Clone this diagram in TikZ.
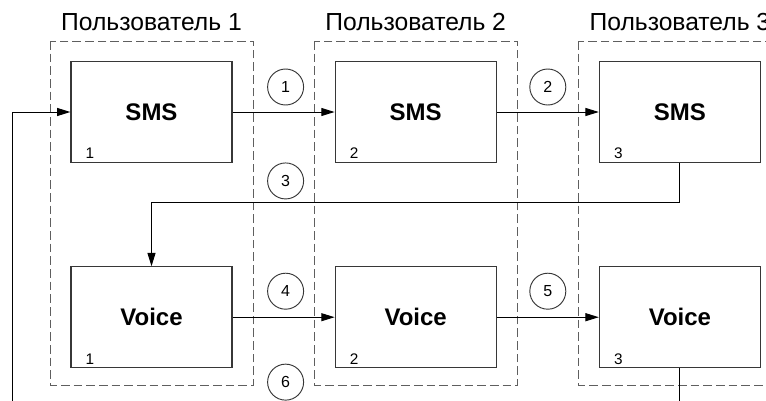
\documentclass[tikz,border=0pt]{standalone}
\usepackage{fontspec}
\setmainfont{Liberation Sans}
\usetikzlibrary{arrows.meta,positioning,calc}
\definecolor{boxcol}{RGB}{55,55,55}
\definecolor{usrcol}{RGB}{95,95,95}

\begin{document}
\begin{tikzpicture}[x=0.75pt, y=-0.75pt,
  svc/.style={rectangle, draw=boxcol, line width=0.9pt, minimum width=120.75pt, minimum height=75.5pt,
              font=\fontsize{18}{20}\selectfont\bfseries},
  usr/.style={draw=usrcol, line width=0.8pt, dash pattern=on 6.5pt off 3pt},
  usrname/.style={inner sep=0pt, font=\fontsize{18.5}{20}\selectfont},
  svcno/.style={anchor=base west, inner sep=0pt, font=\fontsize{11.5}{12}\selectfont},
  stepno/.style={circle, draw=boxcol, line width=0.7pt, minimum size=27pt, inner sep=0pt,
                 font=\fontsize{12}{12}\selectfont},
  msg/.style={draw=black, line width=0.75pt, -{Triangle[length=10pt,width=6pt]}}]

% canvas, cut at the frame
\fill[white] (0,0) rectangle (766,400);
\useasboundingbox (0,0) rectangle (766,400);
\clip (0,0) rectangle (766,400);

% services of each user
\node[svc] (sms1) at (151.5,112) {SMS};
\node[svc, right=76.5pt of sms1] (sms2) {SMS};
\node[svc, right=76.5pt of sms2] (sms3) {SMS};
\node[svc, below=77.5pt of sms1] (voice1) {Voice};
\node[svc, right=76.5pt of voice1] (voice2) {Voice};
\node[svc, right=76.5pt of voice2] (voice3) {Voice};

% user index inside the boxes
\foreach \s/\n in {sms1/1, sms2/2, sms3/3, voice1/1, voice2/2, voice3/3}
  \node[svcno] at ($(\s.south west)+(15,-4)$) {\n};

% user frames
\foreach \u in {1,2,3} {
  \draw[usr] ($(sms\u.north west)+(-20,-20)$) rectangle ($(voice\u.south east)+(21,17)$);
  \node[usrname] (user\u) at ($(sms\u.north)+(0,-39)$) {Пользователь \u};
}

% message flow
\coordinate (loop) at (12,430);
\draw[msg] (sms1) -- (sms2);
\draw[msg] (sms2) -- (sms3);
\draw[msg] (sms3.south) -- ++(0,40) -| (voice1.north);
\draw[msg] (voice1) -- (voice2);
\draw[msg] (voice2) -- (voice3);
\draw[msg] (voice3.south) |- (loop) |- (sms1.west);

% step numbers
\node[stepno] (s1) at ($(sms1.east)!0.5!(sms2.west)+(2,-25)$) {1};
\node[stepno] (s2) at ($(sms2.east)!0.5!(sms3.west)+(0,-25)$) {2};
\node[stepno] (s3) at ($(sms1.south east)!0.5!(sms2.south west)+(2,18)$) {3};
\node[stepno] (s4) at ($(voice1.east)!0.5!(voice2.west)+(2,-26)$) {4};
\node[stepno] (s5) at ($(voice2.east)!0.5!(voice3.west)+(0,-26)$) {5};
\node[stepno] (s6) at ($(voice1.south east)!0.5!(voice2.south west)+(2,14)$) {6};
\end{tikzpicture}
\end{document}
